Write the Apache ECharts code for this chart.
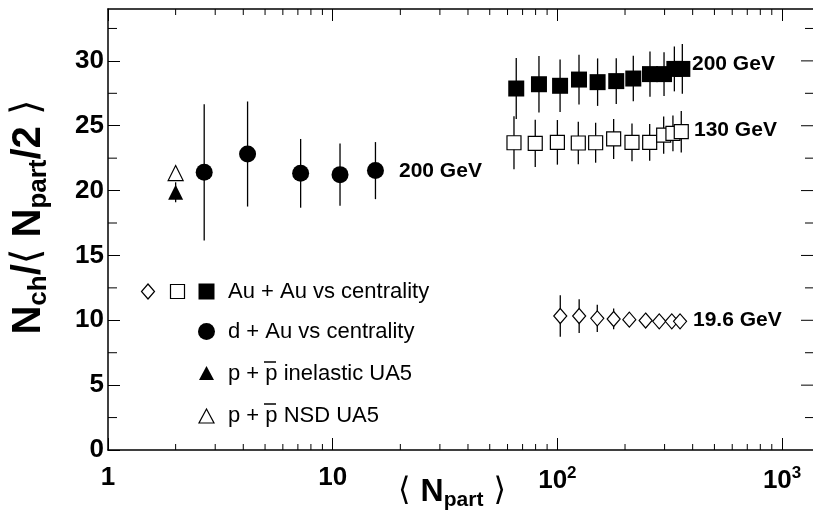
<!DOCTYPE html>
<html>
<head>
<meta charset="utf-8">
<script src="https://cdn.jsdelivr.net/npm/echarts@6/dist/echarts.min.js"></script>
<style>
html, body { margin: 0; padding: 0; background: #fff; overflow: hidden; }
#main { width: 813px; height: 518px; }
</style>
</head>
<body>
<div id="main"></div>
<script>
// Au+Au 200 GeV, filled squares
var auau200Npart = [65.6, 82.8, 102.8, 124.8, 151, 182.8, 217.7, 258.3, 298.3, 331.6, 359.8];
var auau200Val = [27.87, 28.2, 28.08, 28.56, 28.36, 28.44, 28.64, 28.98, 28.98, 29.38, 29.38];
var auau200Err = [2.35, 2.18, 2.03, 1.92, 1.83, 1.77, 1.76, 1.74, 1.68, 1.73, 1.92];

// Au+Au 130 GeV, open squares
var auau130Npart = [64.1, 79.7, 100, 123.9, 148, 178, 214.8, 257.5, 297.2, 326.8, 355.9];
var auau130Val = [23.69, 23.64, 23.72, 23.67, 23.69, 23.98, 23.72, 23.72, 24.28, 24.41, 24.54];
var auau130Err = [2.05, 1.82, 1.72, 1.64, 1.54, 1.54, 1.46, 1.41, 1.44, 1.37, 1.6];

// Au+Au 19.6 GeV, open diamonds
var auau19Npart = [103, 125, 150.5, 178, 209, 247, 284, 323, 351.5];
var auau19Val = [10.33, 10.33, 10.15, 10.1, 10.05, 9.98, 9.92, 9.92, 9.92];
var auau19Err = [1.6, 1.3, 1.05, 0.8, 0.55, 0.55, 0.5, 0.5, 0.5];

// d+Au 200 GeV, filled circles
var dauNpart = [2.68, 4.18, 7.2, 10.78, 15.5];
var dauVal = [21.41, 22.82, 21.33, 21.23, 21.54];
var dauErr = [5.25, 4.05, 2.65, 2.4, 2.2];

// p+pbar UA5
var ppInelNpart = [2];
var ppInelVal = [19.87];
var ppInelErr = [0.77];
var ppNsdNpart = [2];
var ppNsdVal = [21.35];
var ppNsdErr = [0.5];

var xMinorTicks = [2, 3, 4, 5, 6, 7, 8, 9, 20, 30, 40, 50, 60, 70, 80, 90, 200, 300, 400, 500, 600, 700, 800, 900];
var yMinorTicks = [2.5, 7.5, 12.5, 17.5, 22.5, 27.5, 32.5];
var yMajorTicks = [5, 10, 15, 20, 25, 30];

var xMin = 1, xMax = 1601, yMin = 0, yMax = 34;
var FONT = 'Liberation Sans, Arial, Helvetica, sans-serif';

function pts(xs, ys) {
    var out = [];
    for (var i = 0; i < xs.length; i++) out.push([xs[i], ys[i]]);
    return out;
}
function errPts(xs, ys, es) {
    var out = [];
    for (var i = 0; i < xs.length; i++) out.push([xs[i], ys[i], es[i]]);
    return out;
}

function renderErr(params, api) {
    var lo = api.coord([api.value(0), api.value(1) - api.value(2)]);
    var hi = api.coord([api.value(0), api.value(1) + api.value(2)]);
    return {
        type: 'line',
        shape: { x1: lo[0], y1: lo[1], x2: hi[0], y2: hi[1] },
        style: { stroke: '#000', lineWidth: 1.3 }
    };
}

function errSeries(xs, ys, es) {
    return {
        type: 'custom', silent: true, z: 2,
        renderItem: renderErr,
        data: errPts(xs, ys, es)
    };
}

function renderXMinor(params, api) {
    var b = api.coord([api.value(0), yMin]);
    var t = api.coord([api.value(0), yMax]);
    return {
        type: 'group',
        children: [
            { type: 'line', shape: { x1: b[0], y1: b[1], x2: b[0], y2: b[1] - 6 }, style: { stroke: '#000', lineWidth: 1 } },
            { type: 'line', shape: { x1: t[0], y1: t[1], x2: t[0], y2: t[1] + 6 }, style: { stroke: '#000', lineWidth: 1 } }
        ]
    };
}
// ticks on the left and on the (cut off) right frame edge
function yTickRenderer(len, rightLen) {
    return function (params, api) {
        var l = api.coord([xMin, api.value(1)]);
        var kids = [{ type: 'line', shape: { x1: 813, y1: l[1], x2: 813 - rightLen, y2: l[1] }, style: { stroke: '#000', lineWidth: 1 } }];
        if (len > 0) {
            kids.push({ type: 'line', shape: { x1: l[0], y1: l[1], x2: l[0] + len, y2: l[1] }, style: { stroke: '#000', lineWidth: 1 } });
        }
        return { type: 'group', children: kids };
    };
}

function scatter(xs, ys, symbol, size, filled) {
    return {
        type: 'scatter', z: 3, symbol: symbol, symbolSize: size,
        itemStyle: filled
            ? { color: '#000', opacity: 1 }
            : { color: '#fff', borderColor: '#000', borderWidth: 1.2, opacity: 1 },
        emphasis: { disabled: true },
        data: pts(xs, ys)
    };
}

var chart = echarts.init(document.getElementById('main'));

var lineStyle = { color: '#000', width: 1.5 };
var tickStyle = { color: '#000', width: 1 };

var option = {
    backgroundColor: '#fff',
    animation: false,
    grid: { left: 108, top: 9, width: 720, height: 441, containLabel: false, outerBoundsMode: 'none' },
    xAxis: [
        {
            type: 'log', logBase: 10, min: xMin, max: xMax, position: 'bottom',
            axisLine: { show: true, lineStyle: lineStyle },
            axisTick: { show: true, inside: true, length: 12, lineStyle: tickStyle },
            splitLine: { show: false },
            axisLabel: {
                margin: 15, showMaxLabel: false, color: '#000',
                formatter: function (v) {
                    var p = Math.round(Math.log(v) / Math.LN10);
                    if (p === 0) return '{b|1}';
                    if (p === 1) return '{b|10}';
                    return '{b|10}{s|' + p + '}';
                },
                rich: {
                    b: { fontSize: 26, fontWeight: 'bold', fontFamily: FONT, color: '#000' },
                    s: { fontSize: 17, fontWeight: 'bold', fontFamily: FONT, color: '#000', padding: [0, 0, 14, 0] }
                }
            }
        },
        {
            type: 'log', logBase: 10, min: xMin, max: xMax, position: 'top',
            axisLine: { show: true, lineStyle: lineStyle },
            axisTick: { show: true, inside: true, length: 12, lineStyle: tickStyle },
            splitLine: { show: false },
            axisLabel: { show: false }
        }
    ],
    yAxis: [
        {
            type: 'value', min: yMin, max: yMax, interval: 5, position: 'left',
            axisLine: { show: true, lineStyle: lineStyle },
            axisTick: { show: true, inside: true, length: 12, lineStyle: tickStyle },
            splitLine: { show: false },
            axisLabel: {
                margin: 4, showMaxLabel: false, color: '#000',
                fontSize: 26, fontWeight: 'bold', fontFamily: FONT
            }
        }
    ],
    graphic: [
        // y axis title
        {
            type: 'text', x: 29, y: 217, rotation: Math.PI / 2,
            style: {
                text: '{n|N}{sub|ch}{n|/}{br|\u27E8}{n| N}{sub|part}{n|/2 }{br|\u27E9}',
                align: 'center', verticalAlign: 'middle',
                textAlign: 'center', textVerticalAlign: 'middle',
                rich: {
                    n: { fontSize: 40, fontWeight: 'bold', fontFamily: FONT, fill: '#000', color: '#000' },
                    sub: { fontSize: 26, fontWeight: 'bold', fontFamily: FONT, fill: '#000', color: '#000', padding: [20, 0, 0, 0] },
                    br: { fontSize: 40, fontWeight: 'normal', fontFamily: 'DejaVu Sans', fill: '#000', color: '#000' }
                }
            }
        },
        // x axis title
        {
            type: 'text', x: 452, y: 492,
            style: {
                text: '{br|\u27E8 }{n|N}{sub|part}{br| \u27E9}',
                align: 'center', verticalAlign: 'middle',
                textAlign: 'center', textVerticalAlign: 'middle',
                rich: {
                    n: { fontSize: 32, fontWeight: 'bold', fontFamily: FONT, fill: '#000', color: '#000' },
                    sub: { fontSize: 21, fontWeight: 'bold', fontFamily: FONT, fill: '#000', color: '#000', padding: [16, 0, 0, 0] },
                    br: { fontSize: 32, fontWeight: 'normal', fontFamily: 'DejaVu Sans', fill: '#000', color: '#000' }
                }
            }
        },
        // energy labels
        { type: 'text', x: 692, y: 64, style: { text: '200 GeV', font: 'bold 21px ' + FONT, fill: '#000', verticalAlign: 'middle', textVerticalAlign: 'middle' } },
        { type: 'text', x: 694, y: 130, style: { text: '130 GeV', font: 'bold 21px ' + FONT, fill: '#000', verticalAlign: 'middle', textVerticalAlign: 'middle' } },
        { type: 'text', x: 399, y: 171, style: { text: '200 GeV', font: 'bold 21px ' + FONT, fill: '#000', verticalAlign: 'middle', textVerticalAlign: 'middle' } },
        { type: 'text', x: 693, y: 320, style: { text: '19.6 GeV', font: 'bold 21px ' + FONT, fill: '#000', verticalAlign: 'middle', textVerticalAlign: 'middle' } },
        // legend symbols
        { type: 'polygon', shape: { points: [[148, 284], [154.5, 291.5], [148, 299], [141.5, 291.5]] }, style: { fill: '#fff', stroke: '#000', lineWidth: 1.2 } },
        { type: 'rect', shape: { x: 170.5, y: 284.5, width: 14, height: 14 }, style: { fill: '#fff', stroke: '#000', lineWidth: 1.2 } },
        { type: 'rect', shape: { x: 198.5, y: 283.5, width: 16, height: 16 }, style: { fill: '#000' } },
        { type: 'circle', shape: { cx: 206.5, cy: 331.5, r: 8.5 }, style: { fill: '#000' } },
        { type: 'polygon', shape: { points: [[206.5, 366], [214, 380], [199, 380]] }, style: { fill: '#000' } },
        { type: 'polygon', shape: { points: [[206.5, 409], [214, 423], [199, 423]] }, style: { fill: '#fff', stroke: '#000', lineWidth: 1.2 } },
        // legend texts
        { type: 'text', x: 228, y: 292, style: { text: 'Au + Au vs centrality', font: '22px ' + FONT, fill: '#000', verticalAlign: 'middle', textVerticalAlign: 'middle' } },
        { type: 'text', x: 228, y: 332, style: { text: 'd + Au vs centrality', font: '22px ' + FONT, fill: '#000', verticalAlign: 'middle', textVerticalAlign: 'middle' } },
        { type: 'text', x: 228, y: 374, style: { text: 'p + p inelastic UA5', font: '22px ' + FONT, fill: '#000', verticalAlign: 'middle', textVerticalAlign: 'middle' } },
        { type: 'line', shape: { x1: 264, y1: 362, x2: 276, y2: 362 }, style: { stroke: '#000', lineWidth: 1.5 } },
        { type: 'text', x: 228, y: 416, style: { text: 'p + p NSD UA5', font: '22px ' + FONT, fill: '#000', verticalAlign: 'middle', textVerticalAlign: 'middle' } },
        { type: 'line', shape: { x1: 264, y1: 404, x2: 276, y2: 404 }, style: { stroke: '#000', lineWidth: 1.5 } }
    ],
    series: [
        { type: 'custom', silent: true, z: 1, renderItem: renderXMinor, data: xMinorTicks.map(function (v) { return [v, yMin]; }) },
        { type: 'custom', silent: true, z: 1, renderItem: yTickRenderer(9, 8), data: yMinorTicks.map(function (v) { return [xMin, v]; }) },
        { type: 'custom', silent: true, z: 1, renderItem: yTickRenderer(0, 12), data: yMajorTicks.map(function (v) { return [xMin, v]; }) },

        errSeries(auau200Npart, auau200Val, auau200Err),
        errSeries(auau130Npart, auau130Val, auau130Err),
        errSeries(auau19Npart, auau19Val, auau19Err),
        errSeries(dauNpart, dauVal, dauErr),
        errSeries(ppInelNpart, ppInelVal, ppInelErr),
        errSeries(ppNsdNpart, ppNsdVal, ppNsdErr),

        scatter(auau200Npart, auau200Val, 'rect', 16, true),
        scatter(auau130Npart, auau130Val, 'rect', 14, false),
        scatter(auau19Npart, auau19Val, 'diamond', [13, 15], false),
        scatter(dauNpart, dauVal, 'circle', 17, true),
        scatter(ppInelNpart, ppInelVal, 'triangle', 15, true),
        scatter(ppNsdNpart, ppNsdVal, 'triangle', 15, false)
    ]
};

chart.setOption(option);
</script>
</body>
</html>
